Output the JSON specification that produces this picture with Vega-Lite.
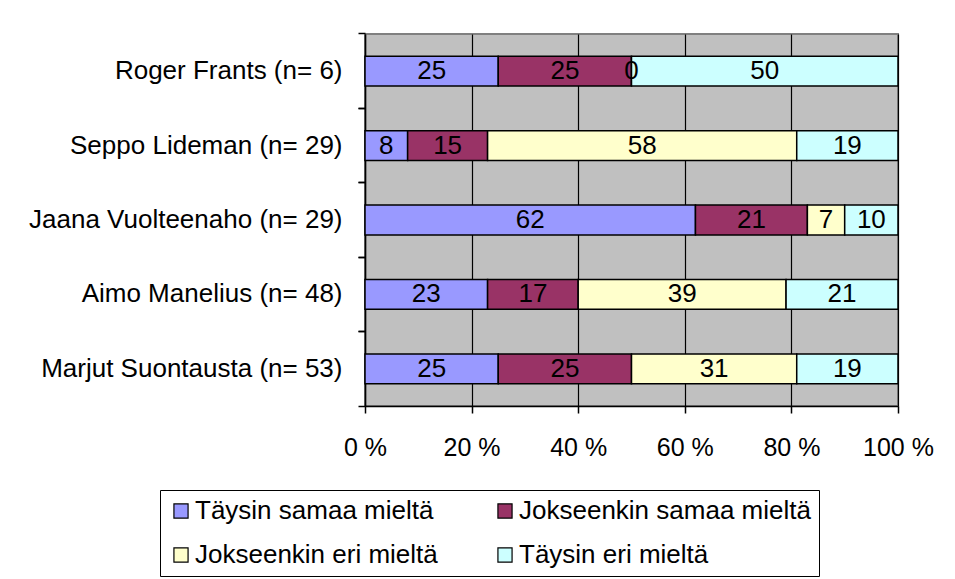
{
  "$schema": "https://vega.github.io/schema/vega-lite/v6.json",
  "width": 533,
  "height": 372,
  "autosize": {"type": "none"},
  "padding": {"left": 365, "top": 34, "right": 57, "bottom": 173},
  "background": "white",
  "config": {
    "font": "Liberation Sans",
    "view": {"fill": "#C0C0C0", "stroke": "#808080", "strokeWidth": 2},
    "axis": {"labelFont": "Liberation Sans", "labelColor": "black", "labelFontSize": 25, "labelLimit": 0, "domainColor": "black", "domainWidth": 1.5, "tickColor": "black", "tickWidth": 1.5, "tickSize": 7, "title": null}
  },
  "data": {
    "values": [
      {"name": "Roger Frants (n= 6)", "cat": "Täysin samaa mieltä", "k": 1, "v": 25},
      {"name": "Roger Frants (n= 6)", "cat": "Jokseenkin samaa mieltä", "k": 2, "v": 25},
      {"name": "Roger Frants (n= 6)", "cat": "Jokseenkin eri mieltä", "k": 3, "v": 0},
      {"name": "Roger Frants (n= 6)", "cat": "Täysin eri mieltä", "k": 4, "v": 50},
      {"name": "Seppo Lideman (n= 29)", "cat": "Täysin samaa mieltä", "k": 1, "v": 8},
      {"name": "Seppo Lideman (n= 29)", "cat": "Jokseenkin samaa mieltä", "k": 2, "v": 15},
      {"name": "Seppo Lideman (n= 29)", "cat": "Jokseenkin eri mieltä", "k": 3, "v": 58},
      {"name": "Seppo Lideman (n= 29)", "cat": "Täysin eri mieltä", "k": 4, "v": 19},
      {"name": "Jaana Vuolteenaho (n= 29)", "cat": "Täysin samaa mieltä", "k": 1, "v": 62},
      {"name": "Jaana Vuolteenaho (n= 29)", "cat": "Jokseenkin samaa mieltä", "k": 2, "v": 21},
      {"name": "Jaana Vuolteenaho (n= 29)", "cat": "Jokseenkin eri mieltä", "k": 3, "v": 7},
      {"name": "Jaana Vuolteenaho (n= 29)", "cat": "Täysin eri mieltä", "k": 4, "v": 10},
      {"name": "Aimo Manelius (n= 48)", "cat": "Täysin samaa mieltä", "k": 1, "v": 23},
      {"name": "Aimo Manelius (n= 48)", "cat": "Jokseenkin samaa mieltä", "k": 2, "v": 17},
      {"name": "Aimo Manelius (n= 48)", "cat": "Jokseenkin eri mieltä", "k": 3, "v": 39},
      {"name": "Aimo Manelius (n= 48)", "cat": "Täysin eri mieltä", "k": 4, "v": 21},
      {"name": "Marjut Suontausta (n= 53)", "cat": "Täysin samaa mieltä", "k": 1, "v": 25},
      {"name": "Marjut Suontausta (n= 53)", "cat": "Jokseenkin samaa mieltä", "k": 2, "v": 25},
      {"name": "Marjut Suontausta (n= 53)", "cat": "Jokseenkin eri mieltä", "k": 3, "v": 31},
      {"name": "Marjut Suontausta (n= 53)", "cat": "Täysin eri mieltä", "k": 4, "v": 19}
    ]
  },
  "transform": [
    {"stack": "v", "groupby": ["name"], "sort": [{"field": "k", "order": "ascending"}], "as": ["v0", "v1"]},
    {"calculate": "(datum.v0 + datum.v1) / 2", "as": "mid"}
  ],
  "resolve": {"axis": {"y": "independent"}},
  "layer": [
    {
      "mark": {"type": "bar", "stroke": "black", "strokeWidth": 1.5},
      "encoding": {
        "y": {
          "field": "name", "type": "nominal", "sort": null,
          "scale": {"paddingInner": 0.6, "paddingOuter": 0.3},
          "axis": {"orient": "left", "bandPosition": -0.75, "labelPadding": 16, "labelFontSize": 26, "grid": false}
        },
        "x": {
          "field": "v0", "type": "quantitative",
          "scale": {"domain": [0, 100], "nice": false},
          "axis": {"values": [0, 20, 40, 60, 80, 100], "labelExpr": "datum.value + ' %'", "grid": true, "gridColor": "black", "gridOpacity": 1, "gridWidth": 1.2, "labelPadding": 22, "labelFlush": false}
        },
        "x2": {"field": "v1"},
        "color": {
          "field": "cat", "type": "nominal",
          "scale": {
            "domain": ["Täysin samaa mieltä", "Jokseenkin samaa mieltä", "Jokseenkin eri mieltä", "Täysin eri mieltä"],
            "range": ["#9999FF", "#993366", "#FFFFCC", "#CCFFFF"]
          },
          "legend": {
            "title": null, "orient": "none", "legendX": -205, "legendY": 456,
            "direction": "horizontal", "columns": 2,
            "columnPadding": 54, "rowPadding": 18,
            "symbolType": "square", "symbolSize": 200, "symbolStrokeColor": "black", "symbolStrokeWidth": 1.2,
            "labelFont": "Liberation Sans", "labelFontSize": 26, "labelColor": "black", "labelOffset": 1, "labelLimit": 0,
            "strokeColor": "black", "fillColor": "white", "padding": 8
          }
        }
      }
    },
    {
      "mark": {"type": "text", "font": "Liberation Sans", "fontSize": 26, "color": "black", "baseline": "middle", "align": "center"},
      "encoding": {
        "y": {
          "field": "name", "type": "nominal", "sort": null,
          "axis": {"orient": "left", "bandPosition": 1.75, "labels": false, "domain": false, "grid": false}
        },
        "x": {"field": "mid", "type": "quantitative"},
        "text": {"field": "v", "type": "quantitative"}
      }
    }
  ]
}
